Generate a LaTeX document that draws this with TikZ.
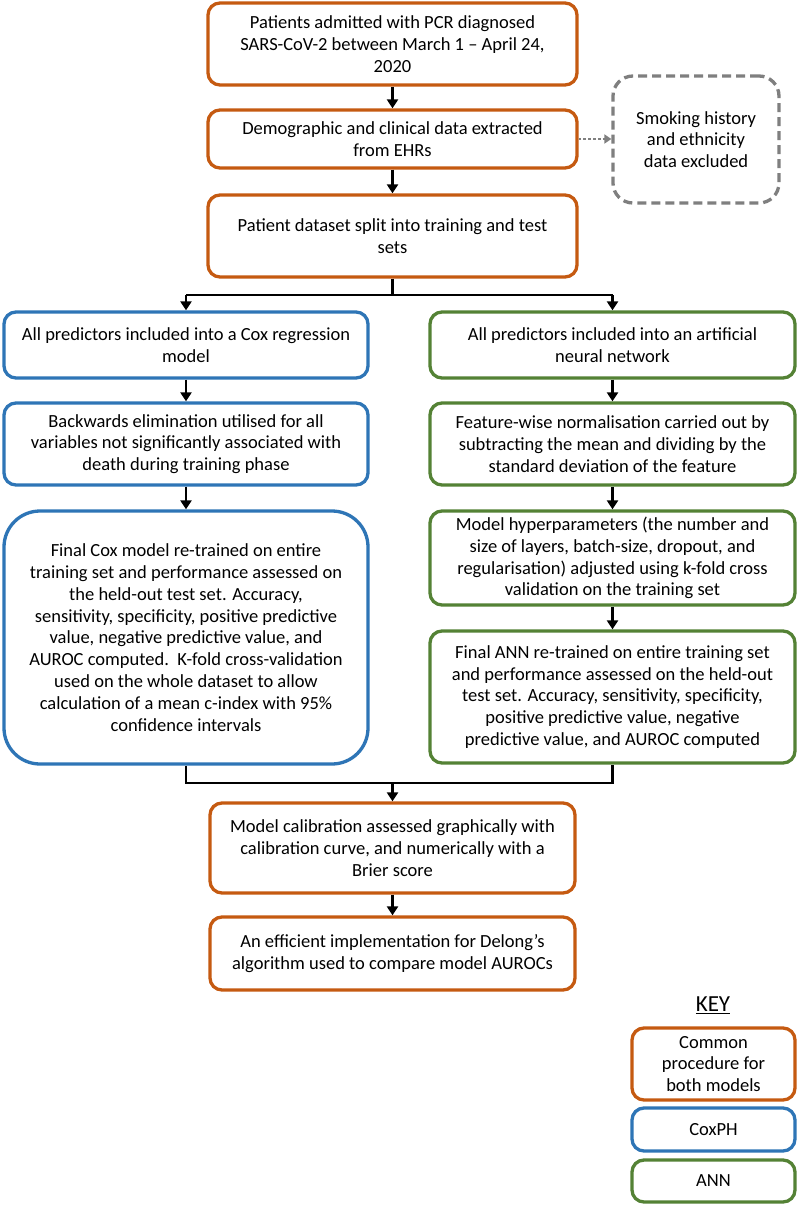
\documentclass[tikz,border=0pt]{standalone}
\usepackage{fontspec}
\setmainfont{Carlito}
\usetikzlibrary{arrows.meta}
\definecolor{corange}{RGB}{197,90,17}
\definecolor{cblue}{RGB}{46,117,182}
\definecolor{cgreen}{RGB}{84,130,53}
\definecolor{cgrey}{RGB}{127,127,127}
\begin{document}
\begin{tikzpicture}[x=1pt,y=-1pt,
  box/.style={draw, line width=3.3pt, rounded corners=12pt, align=center, inner sep=0pt,
    font=\fontsize{18.5}{21.8}\selectfont},
  common/.style={box, draw=corange},
  cox/.style={box, draw=cblue},
  ann/.style={box, draw=cgreen},
  excl/.style={box, draw=cgrey, dashed, dash pattern=on 9pt off 5pt, rounded corners=20pt},
  arr/.style={draw=black, line width=2.8pt, -{Triangle[length=9pt,width=11pt]}},
  ln/.style={draw=black, line width=2.8pt},
  dotarr/.style={draw=cgrey, line width=2.8pt, dotted, -{Triangle[length=7pt,width=9pt]}}]
\useasboundingbox (0,0) rectangle (797,1205);
\fill[white] (0,0) rectangle (797,1205);

\node[common, minimum width=369pt, minimum height=82pt] (b1) at (392.5,44)
  {Patients admitted with PCR diagnosed\\SARS-CoV-2 between March 1 -- April 24,\\2020};
\node[common, minimum width=369pt, minimum height=58pt] (b2) at (392.5,139)
  {Demographic and clinical data extracted\\from EHRs};
\node[common, minimum width=369pt, minimum height=82pt] (b3) at (392.5,236)
  {Patient dataset split into training and test\\sets};
\node[excl, minimum width=166pt, minimum height=127pt] (ex) at (696,139.5)
  {Smoking history\\and ethnicity\\data excluded};

\node[cox, minimum width=364pt, minimum height=66pt] (l1) at (186,345)
  {All predictors included into a Cox regression\\model};
\node[cox, minimum width=364pt, minimum height=82pt] (l2) at (186,444)
  {Backwards elimination utilised for all\\variables not significantly associated with\\death during training phase};
\node[cox, minimum width=364pt, minimum height=253pt, rounded corners=36pt] (l3) at (186,637.5)
  {Final Cox model re-trained on entire\\training set and performance assessed on\\the held-out test set. Accuracy,\\sensitivity, specificity, positive predictive\\value, negative predictive value, and\\AUROC computed.\ \ K-fold cross-validation\\used on the whole dataset to allow\\calculation of a mean c-index with 95\%\\confidence intervals};

\node[ann, minimum width=365pt, minimum height=66pt] (r1) at (612.5,345)
  {All predictors included into an artificial\\neural network};
\node[ann, minimum width=365pt, minimum height=82pt] (r2) at (612.5,444)
  {Feature-wise normalisation carried out by\\subtracting the mean and dividing by the\\standard deviation of the feature};
\node[ann, minimum width=365pt, minimum height=94pt] (r3) at (612.5,558)
  {Model hyperparameters (the number and\\size of layers, batch-size, dropout, and\\regularisation) adjusted using k-fold cross\\validation on the training set};
\node[ann, minimum width=365pt, minimum height=132pt] (r4) at (612.5,697)
  {Final ANN re-trained on entire training set\\and performance assessed on the held-out\\test set. Accuracy, sensitivity, specificity,\\positive predictive value, negative\\predictive value, and AUROC computed};

\node[common, minimum width=365pt, minimum height=90pt] (c1) at (392.5,848)
  {Model calibration assessed graphically with\\calibration curve, and numerically with a\\Brier score};
\node[common, minimum width=365pt, minimum height=73pt] (c2) at (392.5,953.5)
  {An efficient implementation for Delong's\\algorithm used to compare model AUROCs};

\node[font=\fontsize{23}{26}\selectfont] (key) at (713,1005) {\underline{KEY}};
\node[common, minimum width=163pt, minimum height=72pt] (k1) at (713.5,1064)
  {Common\\procedure for\\both models};
\node[cox, minimum width=163pt, minimum height=43pt] (k2) at (713.5,1129.5) {CoxPH};
\node[ann, minimum width=163pt, minimum height=42pt] (k3) at (713.5,1181) {ANN};

\coordinate (j1) at (392.5,295);
\coordinate (j1l) at (186,295);
\coordinate (j1r) at (612.5,295);
\coordinate (j2) at (392.5,783);
\coordinate (j2l) at (186,783);
\coordinate (j2r) at (612.5,783);

\draw[arr] (b1.south) -- (b2.north);
\draw[arr] (b2.south) -- (b3.north);
\draw[dotarr] (b2.east) -- (ex.west |- b2.east);
\draw[ln] (b3.south) -- (j1);
\draw[ln] (j1l) -- (j1r);
\draw[arr] (j1l) -- (l1.north);
\draw[arr] (j1r) -- (r1.north);
\draw[arr] (l1.south) -- (l2.north);
\draw[arr] (l2.south) -- (l3.north);
\draw[arr] (r1.south) -- (r2.north);
\draw[arr] (r2.south) -- (r3.north);
\draw[arr] (r3.south) -- (r4.north);
\draw[ln] (l3.south) -- (j2l) -- (j2r) -- (r4.south);
\draw[arr] (j2) -- (c1.north);
\draw[arr] (c1.south) -- (c2.north);
\end{tikzpicture}
\end{document}
